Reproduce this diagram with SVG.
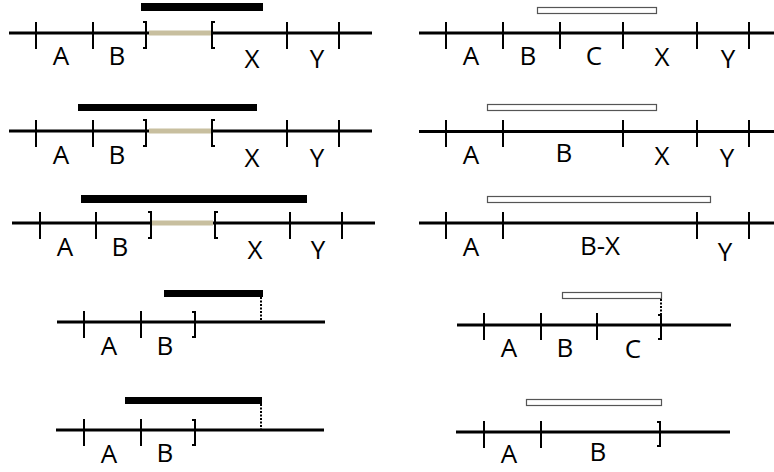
<svg xmlns="http://www.w3.org/2000/svg" width="774" height="472" viewBox="0 0 774 472">
<style>
.ln{stroke:#000;stroke-width:3;fill:none}
.tk{stroke:#000;stroke-width:2;fill:none}
.br{stroke:#000;stroke-width:2;fill:none}
.tan{stroke:#c8bf9f;stroke-width:5;fill:none}
.bb{fill:#000}
.ob{fill:#fff;stroke:#555;stroke-width:1.2}
.dot{stroke:#000;stroke-width:2;stroke-dasharray:2,1.5;fill:none}
text{font-family:"Open Sans","Liberation Sans",sans-serif;font-size:26px;fill:#000;text-anchor:middle}
</style>
<rect width="774" height="472" fill="#fff"/>

<g id="L1">
<rect class="bb" x="141" y="3" width="122" height="8"/>
<line class="ln" x1="9" y1="33" x2="372" y2="33"/>
<line class="tan" x1="149" y1="33" x2="211" y2="33"/>
<path class="tk" d="M36 22V49M93 22V49M287 22V49M339 22V49"/>
<path class="br" d="M143 22H146V48H143M215 22H212V48H215"/>
<text x="61" y="65">A</text><text x="117" y="65">B</text><text x="252" y="68">X</text><text x="317" y="68">Y</text>
</g>

<g id="L2">
<rect class="bb" x="78" y="104" width="179" height="7"/>
<line class="ln" x1="9" y1="131" x2="372" y2="131"/>
<line class="tan" x1="149" y1="131" x2="211" y2="131"/>
<path class="tk" d="M36 120V147M93 120V147M287 120V147M339 120V147"/>
<path class="br" d="M143 120H146V146H143M215 120H212V146H215"/>
<text x="61" y="164">A</text><text x="117" y="164">B</text><text x="252" y="167">X</text><text x="317" y="167">Y</text>
</g>

<g id="L3">
<rect class="bb" x="81" y="195" width="226" height="8"/>
<line class="ln" x1="12" y1="223" x2="375" y2="223"/>
<line class="tan" x1="152" y1="223" x2="213" y2="223"/>
<path class="tk" d="M40 212V239M96 212V239M290 212V239M342 212V239"/>
<path class="br" d="M148 212H151V238H148M218 212H215V238H218"/>
<text x="65" y="256">A</text><text x="120" y="256">B</text><text x="255" y="259">X</text><text x="318" y="259">Y</text>
</g>

<g id="L4">
<rect class="bb" x="164" y="290" width="99" height="7"/>
<line class="dot" x1="261" y1="297" x2="261" y2="321"/>
<line class="ln" x1="57" y1="322" x2="325" y2="322"/>
<path class="tk" d="M84 311V338M141 311V338"/>
<path class="br" d="M192 312H195V337H192"/>
<text x="109" y="355">A</text><text x="165" y="355">B</text>
</g>

<g id="L5">
<rect class="bb" x="125" y="397" width="137" height="7"/>
<line class="dot" x1="261" y1="404" x2="261" y2="429"/>
<line class="ln" x1="56" y1="430" x2="324" y2="430"/>
<path class="tk" d="M84 419V446M141 419V446"/>
<path class="br" d="M192 420H195V445H192"/>
<text x="109" y="463">A</text><text x="165" y="462">B</text>
</g>

<g id="R1">
<rect class="ob" x="537.5" y="7.5" width="119" height="6"/>
<line class="ln" x1="419" y1="33" x2="774" y2="33"/>
<path class="tk" d="M446 22V49M503 22V49M560 22V49M623 22V49M697 22V49M749 22V49"/>
<text x="471" y="65">A</text><text x="528" y="65">B</text><text x="594" y="65">C</text><text x="662" y="66">X</text><text x="728" y="68">Y</text>
</g>

<g id="R2">
<rect class="ob" x="487.5" y="104.5" width="169" height="6"/>
<line class="ln" x1="419" y1="131.5" x2="774" y2="131.5"/>
<path class="tk" d="M446 120V147M503 120V147M623 120V147M697 120V147M749 120V147"/>
<text x="471" y="164">A</text><text x="564" y="162">B</text><text x="662" y="165">X</text><text x="727" y="167">Y</text>
</g>

<g id="R3">
<rect class="ob" x="487.5" y="196.5" width="223" height="6"/>
<line class="ln" x1="419" y1="223" x2="774" y2="223"/>
<path class="tk" d="M446 212V239M503 212V239M697 212V239M749 212V239"/>
<text x="471" y="256">A</text><text x="600" y="255">B-X</text><text x="725" y="261">Y</text>
</g>

<g id="R4">
<rect class="ob" x="562.5" y="292.5" width="99" height="6"/>
<line class="dot" x1="661" y1="299" x2="661" y2="314"/>
<line class="ln" x1="457" y1="325" x2="731" y2="325"/>
<path class="tk" d="M484 313V340M541 313V340M597 313V340"/>
<path class="br" d="M658 315H661V339H658"/>
<text x="509" y="357">A</text><text x="565" y="357">B</text><text x="633" y="358">C</text>
</g>

<g id="R5">
<rect class="ob" x="526.5" y="399.5" width="135" height="6"/>
<line class="ln" x1="456" y1="432" x2="730" y2="432"/>
<path class="tk" d="M484 421V448M541 421V448"/>
<path class="br" d="M657 422H660V446H657"/>
<text x="509" y="463">A</text><text x="598" y="461">B</text>
</g>
</svg>
